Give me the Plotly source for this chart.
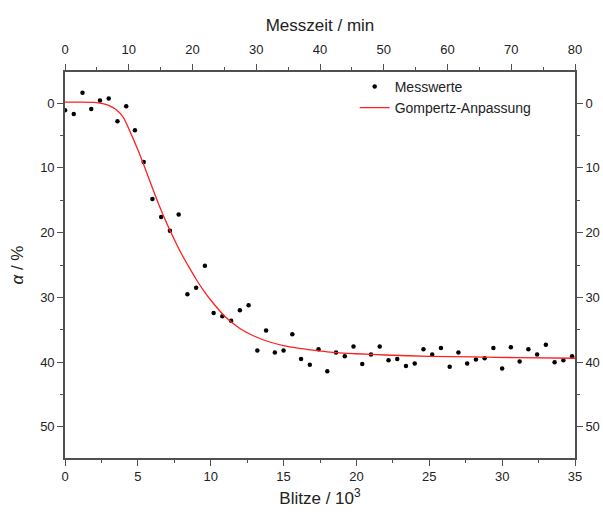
import plotly.graph_objects as go

# Messwerte (Blitze / 10^3, alpha / %)
blitze = [0.0, 0.6, 1.2, 1.8, 2.4, 3.0, 3.6, 4.2, 4.8, 5.4, 6.0, 6.6, 7.2, 7.8, 8.4, 9.0,
          9.6, 10.2, 10.8, 11.4, 12.0, 12.6, 13.2, 13.8, 14.4, 15.0, 15.6, 16.2, 16.8,
          17.4, 18.0, 18.6, 19.2, 19.8, 20.4, 21.0, 21.6, 22.2, 22.8, 23.4, 24.0, 24.6,
          25.2, 25.8, 26.4, 27.0, 27.6, 28.2, 28.8, 29.4, 30.0, 30.6, 31.2, 31.8, 32.4,
          33.0, 33.6, 34.2, 34.8]
alpha = [1.1, 1.7, -1.6, 0.9, -0.4, -0.7, 2.8, 0.5, 4.2, 9.1, 14.8, 17.6, 19.7, 17.2,
         29.5, 28.5, 25.1, 32.4, 32.9, 33.6, 32.0, 31.2, 38.2, 35.1, 38.5, 38.2, 35.7,
         39.5, 40.4, 38.0, 41.4, 38.5, 39.1, 37.6, 40.3, 38.8, 37.6, 39.7, 39.5, 40.6,
         40.2, 38.0, 38.8, 37.8, 40.7, 38.5, 40.2, 39.6, 39.4, 37.8, 41.0, 37.7, 39.9,
         38.0, 38.8, 37.3, 40.0, 39.7, 39.1]

# Gompertz-Anpassung
fit_x = [0, 1, 2, 2.5, 3, 3.5, 4, 4.5, 5, 5.5, 6, 6.5, 7, 7.5, 8, 8.5, 9, 9.5, 10, 11,
         12, 13, 14, 15, 16, 17, 18, 20, 22, 25, 28, 31, 35]
fit_y = [-0.15, -0.15, -0.1, 0.05, 0.35, 1.0, 2.2, 4.6, 7.2, 10.1, 13.1, 16.0, 18.65,
         21.05, 23.3, 25.3, 27.2, 28.9, 30.4, 33.0, 34.8, 36.0, 36.85, 37.45, 37.85,
         38.15, 38.4, 38.7, 38.9, 39.1, 39.2, 39.3, 39.4]

x_ticks = [0, 5, 10, 15, 20, 25, 30, 35]
top_ticks = [0, 10, 20, 30, 40, 50, 60, 70, 80]
y_ticks = [0, 10, 20, 30, 40, 50]

font = "Liberation Sans, Arial, sans-serif"
axcol = "#505050"

fig = go.Figure()
fig.add_trace(go.Scatter(x=blitze, y=alpha, mode="markers", name="Messwerte",
                         marker=dict(color="black", size=4.5)))
fig.add_trace(go.Scatter(x=fit_x, y=fit_y, mode="lines", name="Gompertz-Anpassung",
                         line=dict(color="#ff2020", width=1.3, shape="spline", smoothing=0.8)))
# invisible traces to anchor the secondary axes
fig.add_trace(go.Scatter(x=[0, 80], y=[0, 0], xaxis="x2", yaxis="y", mode="markers",
                         marker=dict(opacity=0), showlegend=False, hoverinfo="skip"))
fig.add_trace(go.Scatter(x=[0, 35], y=[0, 0], xaxis="x", yaxis="y2", mode="markers",
                         marker=dict(opacity=0), showlegend=False, hoverinfo="skip"))

common = dict(showline=True, linecolor=axcol, linewidth=1.6, ticks="outside",
              ticklen=6, tickwidth=1.4, tickcolor=axcol, showgrid=False, zeroline=False,
              automargin=False,
              tickfont=dict(family=font, size=13, color="#222"))
minor = dict(ticklen=3.5, tickwidth=1.2, tickcolor=axcol, showgrid=False)

fig.update_layout(
    width=603, height=515,
    margin=dict(l=65, r=28, t=72, b=57),
    paper_bgcolor="white", plot_bgcolor="white",
    font=dict(family=font, color="#222"),
    xaxis=dict(range=[0, 35], tickvals=x_ticks,
               title=dict(text="Blitze / 10<sup>3</sup>", font=dict(size=17), standoff=9),
               minor=dict(dtick=2.5, **minor), **common),
    xaxis2=dict(range=[0, 80], tickvals=top_ticks, overlaying="x", side="top",
                anchor="y", ticklabelstandoff=5,
                title=dict(text="Messzeit / min", font=dict(size=17), standoff=6),
                minor=dict(dtick=5, **minor), **common),
    yaxis=dict(range=[54.8, -4.8], tickvals=y_ticks,
               title=dict(text="<i>α</i> / %", font=dict(size=17), standoff=12),
               minor=dict(dtick=5, **minor), **common),
    yaxis2=dict(range=[54.8, -4.8], tickvals=y_ticks, overlaying="y", side="right",
                anchor="x", minor=dict(dtick=5, **minor), **common),
    legend=dict(x=0.568, y=1.003, xanchor="left", yanchor="top",
                bgcolor="rgba(0,0,0,0)", font=dict(family=font, size=14, color="#222"),
                tracegroupgap=0),
    showlegend=True,
)

fig.write_html("out.html")
